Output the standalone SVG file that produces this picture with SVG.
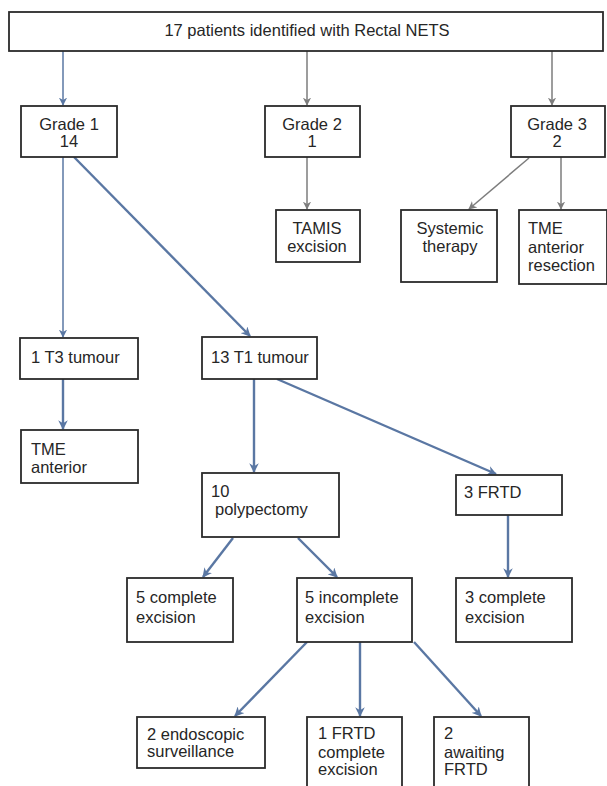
<svg xmlns="http://www.w3.org/2000/svg" width="607" height="786" viewBox="0 0 607 786">
<defs>
<style>
.box{fill:#fff;stroke:#2b2b2b;stroke-width:1.8}
text{font-family:"Liberation Sans",Arial,sans-serif;font-size:16.5px;fill:#262626}
.c{text-anchor:middle}
.b{stroke:#5a77a3;stroke-width:2.4;fill:none}
.bt{stroke:#5a77a3;stroke-width:1.5;fill:none}
.g{stroke:#7d7d7d;stroke-width:1.5;fill:none}
</style>
<marker id="ab" viewBox="0 0 10 10" refX="9" refY="5" markerWidth="4" markerHeight="4" orient="auto" markerUnits="strokeWidth"><path d="M0,0 L10,5 L0,10 L3,5 Z" fill="#5a77a3"/></marker>
<marker id="abt" viewBox="0 0 10 10" refX="9" refY="5" markerWidth="5.5" markerHeight="5.5" orient="auto" markerUnits="strokeWidth"><path d="M0,0 L10,5 L0,10 L3,5 Z" fill="#5a77a3"/></marker>
<marker id="ag" viewBox="0 0 10 10" refX="9" refY="5" markerWidth="5.5" markerHeight="5.5" orient="auto" markerUnits="strokeWidth"><path d="M0,0 L10,5 L0,10 L3,5 Z" fill="#7d7d7d"/></marker>
</defs>
<rect width="607" height="786" fill="#fff"/>
<g id="connectors">
<line class="bt" x1="63" y1="51" x2="63" y2="105" marker-end="url(#abt)"/>
<line class="g" x1="307" y1="51" x2="307" y2="105" marker-end="url(#ag)"/>
<line class="g" x1="552" y1="51" x2="552" y2="105" marker-end="url(#ag)"/>
<line class="g" x1="307" y1="157" x2="307" y2="209" marker-end="url(#ag)"/>
<line class="g" x1="529" y1="158" x2="469" y2="209" marker-end="url(#ag)"/>
<line class="g" x1="561" y1="157" x2="561" y2="209" marker-end="url(#ag)"/>
<line class="bt" x1="63" y1="157" x2="63" y2="337" marker-end="url(#abt)"/>
<line class="b" x1="74" y1="157" x2="250" y2="336" marker-end="url(#ab)"/>
<line class="b" x1="63" y1="379" x2="63" y2="429" marker-end="url(#ab)"/>
<line class="b" x1="254" y1="379" x2="254" y2="472" marker-end="url(#ab)"/>
<line class="b" x1="277" y1="379" x2="496" y2="474" marker-end="url(#ab)"/>
<line class="b" x1="233" y1="538" x2="203" y2="577" marker-end="url(#ab)"/>
<line class="b" x1="298" y1="538" x2="337" y2="577" marker-end="url(#ab)"/>
<line class="b" x1="508" y1="515" x2="508" y2="577" marker-end="url(#ab)"/>
<line class="b" x1="307" y1="642" x2="235" y2="716" marker-end="url(#ab)"/>
<line class="b" x1="360" y1="642" x2="360" y2="716" marker-end="url(#ab)"/>
<line class="b" x1="414" y1="642" x2="481" y2="716" marker-end="url(#ab)"/>
</g>
<g id="n-top"><rect class="box" x="9" y="12" width="594" height="39"/><text class="c" x="307" y="36">17 patients identified with Rectal NETS</text></g>
<g id="n-grade1"><rect class="box" x="21" y="106" width="96" height="51"/><text class="c" x="69" y="130">Grade 1</text><text class="c" x="69" y="147">14</text></g>
<g id="n-grade2"><rect class="box" x="265" y="106" width="95" height="51"/><text class="c" x="312" y="130">Grade 2</text><text class="c" x="312" y="147">1</text></g>
<g id="n-grade3"><rect class="box" x="511" y="106" width="94" height="51"/><text class="c" x="557" y="130">Grade 3</text><text class="c" x="557" y="147">2</text></g>
<g id="n-tamis"><rect class="box" x="276" y="210" width="84" height="52"/><text class="c" x="317" y="234">TAMIS</text><text class="c" x="317" y="252">excision</text></g>
<g id="n-systemic"><rect class="box" x="401" y="210" width="96" height="72"/><text class="c" x="450" y="234">Systemic</text><text class="c" x="450" y="252">therapy</text></g>
<g id="n-tme-ar"><rect class="box" x="519" y="210" width="88" height="74"/><text x="528" y="234">TME</text><text x="528" y="253">anterior</text><text x="528" y="271">resection</text></g>
<g id="n-t3"><rect class="box" x="20" y="338" width="118" height="41"/><text x="31" y="363">1 T3 tumour</text></g>
<g id="n-t1"><rect class="box" x="202" y="337" width="115" height="42"/><text x="211" y="363">13 T1 tumour</text></g>
<g id="n-tme-a"><rect class="box" x="21" y="430" width="117" height="53"/><text x="31" y="455">TME</text><text x="31" y="473">anterior</text></g>
<g id="n-poly"><rect class="box" x="202" y="473" width="137" height="64"/><text x="211" y="497">10</text><text x="215" y="515">polypectomy</text></g>
<g id="n-frtd"><rect class="box" x="456" y="475" width="106" height="40"/><text x="464" y="498">3 FRTD</text></g>
<g id="n-5c"><rect class="box" x="127" y="578" width="106" height="64"/><text x="136" y="603">5 complete</text><text x="136" y="623">excision</text></g>
<g id="n-5i"><rect class="box" x="297" y="578" width="115" height="64"/><text x="305" y="603">5 incomplete</text><text x="305" y="623">excision</text></g>
<g id="n-3c"><rect class="box" x="456" y="578" width="116" height="64"/><text x="465" y="603">3 complete</text><text x="465" y="623">excision</text></g>
<g id="n-endo"><rect class="box" x="137" y="717" width="128" height="51"/><text x="147" y="740">2 endoscopic</text><text x="147" y="757">surveillance</text></g>
<g id="n-1frtd"><rect class="box" x="307" y="717" width="95" height="75"/><text x="318" y="739">1 FRTD</text><text x="318" y="758">complete</text><text x="318" y="775">excision</text></g>
<g id="n-await"><rect class="box" x="434" y="717" width="95" height="75"/><text x="444" y="739">2</text><text x="444" y="758">awaiting</text><text x="444" y="775">FRTD</text></g>
</svg>
